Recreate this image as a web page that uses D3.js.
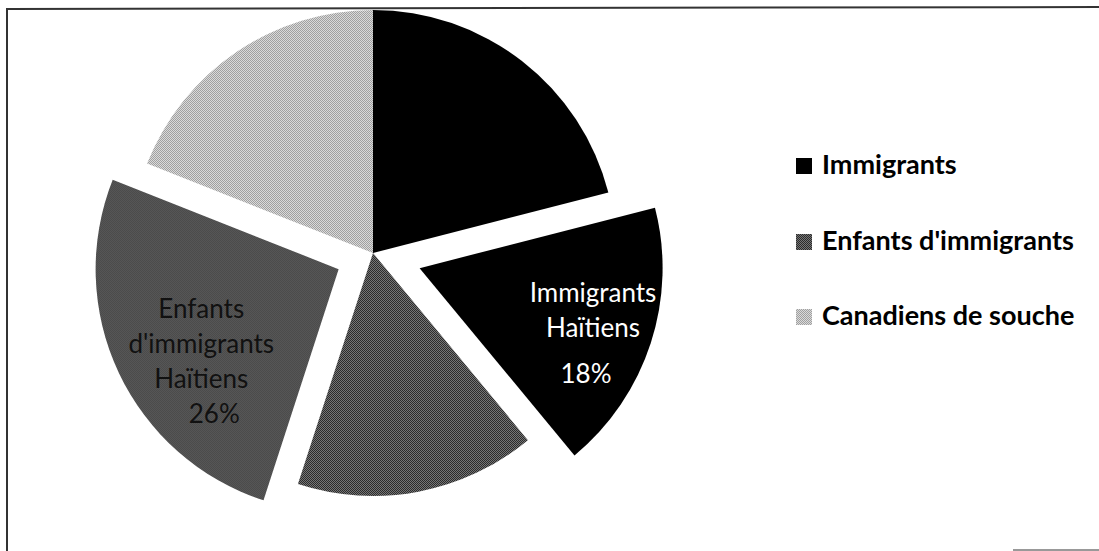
<!DOCTYPE html>
<html>
<head>
<meta charset="utf-8">
<script src="https://cdn.jsdelivr.net/npm/d3@7"></script>
<style>
  html, body { margin: 0; padding: 0; background: #fff; }
  svg { display: block; }
</style>
</head>
<body>
<svg id="chart" width="1099" height="551"></svg>
<script>
// ---- data ----
const categories = ["Immigrants", "Immigrants Haïtiens", "Enfants d'immigrants", "Enfants d'immigrants Haïtiens", "Canadiens de souche"];
const values = [21, 18, 16, 26, 19];
const groupOf = [0, 0, 1, 1, 2];            // legend group of each slice
const labelled = [false, true, false, true, false];
const labelLines = [[], ["Immigrants", "Haïtiens"], [], ["Enfants", "d'immigrants", "Haïtiens"], []];
const legendLabels = ["Immigrants", "Enfants d'immigrants", "Canadiens de souche"];

// ---- layout / style ----
const W = 1099, H = 551;
const cx = 373, cy = 253, R = 243;
const explode = [0, 49, 0, 38, 0];
const labelR = 175;
const labelNudge = [null, {dx: 7, dy: -20, lh: 35, gap: 11, pdx: -7}, null, {dx: 21, dy: -26, lh: 35, gap: 0, pdx: 13}, null];
const labelColor = [null, "#ffffff", null, "#111111", null];

const svg = d3.select("#chart");
const defs = svg.append("defs");

function checker(id, a, b) {
  const p = defs.append("pattern").attr("id", id).attr("width", 2).attr("height", 2)
    .attr("patternUnits", "userSpaceOnUse");
  p.append("rect").attr("width", 2).attr("height", 2).attr("fill", a);
  p.append("rect").attr("x", 1).attr("y", 0).attr("width", 1).attr("height", 1).attr("fill", b);
  p.append("rect").attr("x", 0).attr("y", 1).attr("width", 1).attr("height", 1).attr("fill", b);
}
checker("darkPat", "#2b2b2b", "#767676");
checker("lightPat", "#a0a0a0", "#dadada");
const fills = ["#000000", "url(#darkPat)", "url(#lightPat)"];

// frame
svg.append("path").attr("d", `M7,${H} L7,9 L${W},7`).attr("fill", "none")
  .attr("stroke", "#333").attr("stroke-width", 2);
svg.append("line").attr("x1", 1013).attr("x2", W).attr("y1", 550).attr("y2", 550)
  .attr("stroke", "#999").attr("stroke-width", 2);

// pie
const pie = d3.pie().sort(null).value(d => d).startAngle(0).endAngle(2 * Math.PI);
const arcs = pie(values);
const arc = d3.arc().innerRadius(0).outerRadius(R);

const g = svg.append("g").attr("transform", `translate(${cx},${cy})`);
const slices = g.selectAll("g.slice").data(arcs).enter().append("g")
  .attr("class", "slice")
  .attr("transform", (d, i) => {
    const m = (d.startAngle + d.endAngle) / 2;
    return `translate(${Math.sin(m) * explode[i]},${-Math.cos(m) * explode[i]})`;
  });

slices.append("path").attr("d", arc).attr("fill", (d, i) => fills[groupOf[i]])
  .attr("shape-rendering", "geometricPrecision");

slices.each(function(d, i) {
  if (!labelled[i]) return;
  const m = (d.startAngle + d.endAngle) / 2;
  const n = labelNudge[i];
  const ax = Math.sin(m) * labelR + n.dx;
  const ay = -Math.cos(m) * labelR + n.dy;
  const t = d3.select(this).append("g")
    .attr("font-family", "Lato, 'Open Sans', sans-serif")
    .attr("font-size", 26)
    .attr("fill", labelColor[i])
    .attr("text-anchor", "middle");
  labelLines[i].forEach((line, k) => {
    t.append("text").attr("x", ax).attr("y", ay + k * n.lh).text(line);
  });
  t.append("text").attr("x", ax + n.pdx)
    .attr("y", ay + labelLines[i].length * n.lh + n.gap)
    .text(values[i] + "%");
});

// legend
const ly = d3.scalePoint().domain(legendLabels).range([174, 325]);
const leg = svg.append("g");
legendLabels.forEach((lab, i) => {
  leg.append("rect").attr("x", 796).attr("y", ly(lab) - 16).attr("width", 16).attr("height", 16)
    .attr("fill", fills[i]).attr("shape-rendering", "crispEdges");
  leg.append("text").attr("x", 822).attr("y", ly(lab))
    .attr("font-family", "Lato, 'Open Sans', sans-serif")
    .attr("font-weight", "bold").attr("font-size", 27).attr("fill", "#000")
    .text(lab);
});
</script>
</body>
</html>
